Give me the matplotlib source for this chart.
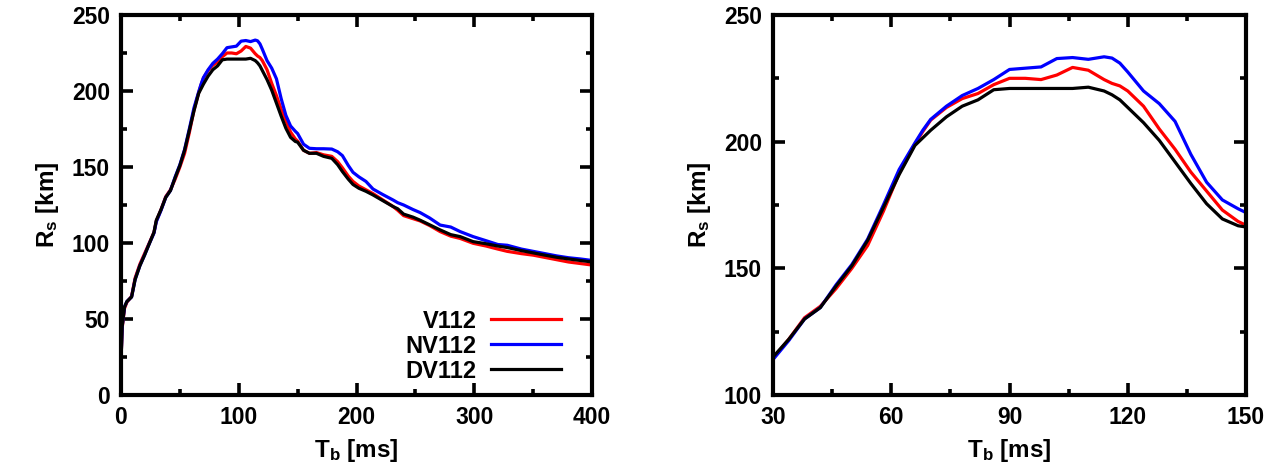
import matplotlib
matplotlib.use("Agg")
import matplotlib.pyplot as plt
from matplotlib.ticker import MultipleLocator

plt.rcParams['font.family'] = ['Liberation Sans', 'DejaVu Sans']
plt.rcParams['font.weight'] = 'bold'
plt.rcParams['mathtext.fontset'] = 'custom'
plt.rcParams['mathtext.rm'] = 'Liberation Sans:bold'
plt.rcParams['mathtext.it'] = 'Liberation Sans:bold'
plt.rcParams['mathtext.bf'] = 'Liberation Sans:bold'

# time after bounce [ms]
t_b = [0, 1, 3, 5, 9, 12, 16, 20, 24, 28, 30, 34, 38, 42, 46, 50, 54, 58, 62, 66,
       68, 70, 74, 78, 82, 86, 90, 94, 98, 102, 106, 110, 114, 116, 118, 120, 124, 128,
       132, 136, 140, 144, 148, 150, 155, 160, 166, 172, 179, 184, 188, 193, 197,
       202, 208, 214, 222, 231, 235, 240, 248, 254, 262, 271, 280, 288, 299, 310,
       320, 328, 340, 350, 360, 370, 380, 390, 400]

# shock radius [km]
r_v112 = [22, 44, 57, 61, 65, 77, 86, 93, 100, 107, 114.5, 122, 130.5, 135, 142, 150,
          159, 172.5, 187.5, 199, 204, 208.5, 213.5, 217, 219, 222.5, 225, 225, 224.5,
          226.3, 229.3, 228.2, 224.5, 223, 222, 220, 214, 205, 197, 188, 180.5, 173,
          168.5, 167, 161, 159, 159.5, 158, 157, 153.5, 149.5, 144, 140.5, 137.5, 135,
          132.5, 128.5, 124, 121.5, 118, 116, 114.5, 111.5, 107.5, 104.5, 103, 99.8,
          98, 96, 94.5, 93, 92, 90.5, 89, 87.5, 86.5, 85.5]

r_nv112 = [22, 45, 58, 61.5, 64.5, 76, 85, 92, 99.5, 106.5, 114, 121.5, 130, 134.5, 143.5,
           151.5, 161.5, 175, 189, 199.5, 204.5, 208.8, 214, 218.2, 221, 224.5, 228.5, 229,
           229.5, 232.8, 233.2, 232.5, 233.5, 233, 231, 227.5, 220, 215, 208, 195,
           184, 177, 173.5, 172, 165, 162.3, 162, 162, 161.8, 160, 157.5, 151, 146.5,
           143.5, 140.5, 135.5, 132, 128.3, 126.5, 125, 122, 120, 116.5, 111.8, 110.5,
           107.5, 104.2, 101.5, 99, 98.5, 96, 94.5, 93, 91.5, 90.3, 89.5, 88.5]

r_dv112 = [22, 45, 58, 61.5, 64.5, 76, 85, 92, 99.5, 107, 115, 122, 130, 134.5, 143,
           151, 161, 174, 187, 198.5, 201.5, 204.5, 209.8, 214, 216.5, 220.5, 221, 221, 221,
           221, 221, 221.5, 220, 218.5, 216.5, 213.5, 207.5, 200.5, 192, 183.5, 175.5,
           169.5, 166.8, 166.3, 161, 159, 159, 157, 155.7, 151.5, 147, 142, 138.5, 136,
           134, 131.6, 128, 124, 122.5, 119, 117, 115, 112, 108.6, 105.5, 104.2, 100.9,
           99.5, 98, 97, 95, 93.5, 92, 90.6, 89.5, 88.5, 87.5]

series = [("V112", r_v112, "#ff0000"),
          ("NV112", r_nv112, "#0000ff"),
          ("DV112", r_dv112, "#000000")]

fig = plt.figure(figsize=(12.79, 4.70), dpi=100)
ax1 = fig.add_axes([0.0946, 0.1596, 0.3683, 0.8085])
ax2 = fig.add_axes([0.6044, 0.1596, 0.3698, 0.8085])

for ax in (ax1, ax2):
    for name, r, c in series:
        ax.plot(t_b, r, color=c, lw=2.3, label=name, solid_joinstyle='round')
    for sp in ax.spines.values():
        sp.set_linewidth(3.0)
    ax.tick_params(which='both', direction='in', top=True, right=True,
                   labelsize=16.5, width=2.6)
    ax.tick_params(which='major', length=8.5, pad=8)
    ax.tick_params(which='minor', length=4.5)
    ax.set_xlabel(r'$\mathrm{T_b}$ [ms]', fontsize=17.5, fontweight='bold', labelpad=6)
    ax.set_ylabel(r'$\mathrm{R_s}$ [km]', fontsize=17.5, fontweight='bold', labelpad=8)
    for lab in ax.get_xticklabels() + ax.get_yticklabels():
        lab.set_fontweight('bold')

ax1.set_xlim(0, 400)
ax1.set_ylim(0, 250)
ax1.xaxis.set_major_locator(MultipleLocator(100))
ax1.xaxis.set_minor_locator(MultipleLocator(50))
ax1.yaxis.set_major_locator(MultipleLocator(50))
ax1.yaxis.set_minor_locator(MultipleLocator(25))

ax2.set_xlim(30, 150)
ax2.set_ylim(100, 250)
ax2.xaxis.set_major_locator(MultipleLocator(30))
ax2.xaxis.set_minor_locator(MultipleLocator(15))
ax2.yaxis.set_major_locator(MultipleLocator(50))
ax2.yaxis.set_minor_locator(MultipleLocator(25))

leg = ax1.legend(loc='lower right', bbox_to_anchor=(0.955, 0.008), frameon=False,
                 markerfirst=False, fontsize=17, handlelength=3.0,
                 handletextpad=0.6, labelspacing=0.08, borderaxespad=0.0)
for txt in leg.get_texts():
    txt.set_fontweight('bold')
    txt.set_ha('right')

fig.savefig("out.png", dpi=100)
